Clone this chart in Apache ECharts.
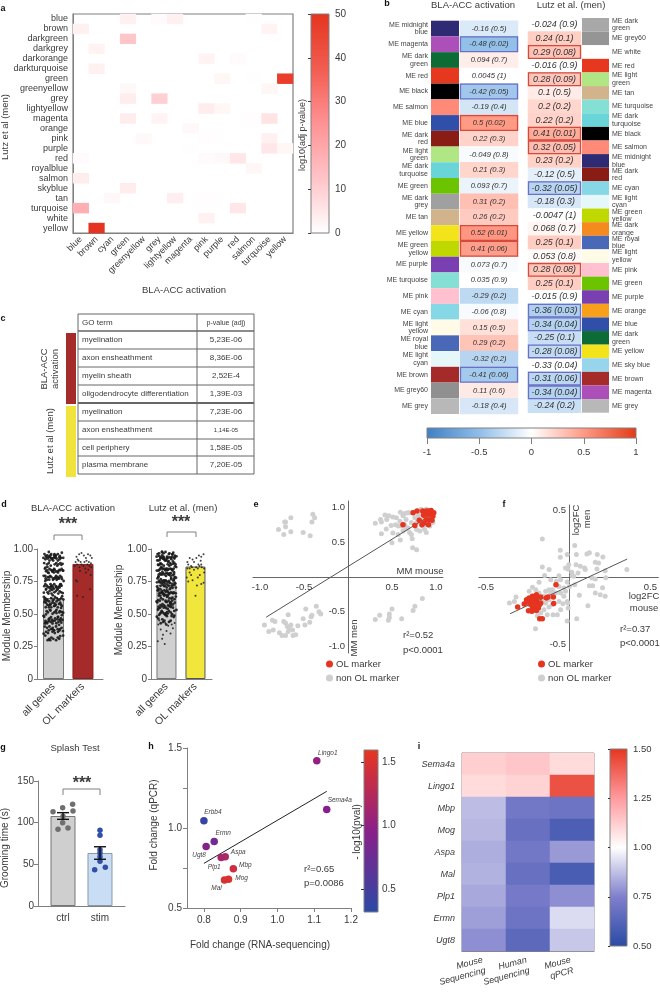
<!DOCTYPE html>
<html><head><meta charset="utf-8"><style>html,body{margin:0;padding:0;background:#fff}#c{width:660px;height:993px}</style>
<script src="https://cdn.jsdelivr.net/npm/echarts@6/dist/echarts.min.js"></script></head>
<body><div id="c"></div><script>
// ---------- panel a data
const aCols=['blue','brown','cyan','green','greenyellow','grey','lightyellow','magenta','pink','purple','red','salmon','turquoise','yellow'];
const aRows=['blue','brown','darkgreen','darkgrey','darkorange','darkturquoise','green','greenyellow','grey','lightyellow','magenta','orange','pink','purple','red','royalblue','salmon','skyblue','tan','turquoise','white','yellow'];
const aCells=[['green','blue',3],['grey','blue',1],['lightyellow','blue',3],['salmon','blue',.3],['blue','brown',3],['turquoise','brown',2.5],['green','darkgreen',12],['brown','darkgrey',2.5],['pink','darkorange',2.5],['red','darkorange',1],['brown','darkturquoise',3],['purple','green',2],['yellow','green',47],['salmon','green',.3],['green','greenyellow',1.5],['turquoise','greenyellow',2],['green','grey',4],['grey','grey',10],['pink','lightyellow',4],['purple','lightyellow',2],['green','magenta',4],['grey','magenta',2.5],['salmon','magenta',.5],['turquoise','magenta',6],['magenta','orange',1.5],['greenyellow','pink',1.5],['pink','pink',.5],['turquoise','pink',3],['magenta','purple',.3],['turquoise','purple',5],['yellow','purple',2],['blue','red',1],['pink','red',1],['purple','red',1.5],['red','red',5],['salmon','royalblue',2],['blue','salmon',4],['green','skyblue',4],['cyan','tan',1.5],['lightyellow','tan',3.5],['pink','tan',.5],['blue','turquoise',18],['red','turquoise',5],['pink','white',3],['brown','yellow',50]];
const aTicks=[0,50];
// ---------- panel b data
const bLeftLabels=['ME midnight\nblue','ME magenta','ME dark\ngreen','ME red','ME black','ME salmon','ME blue','ME dark\nred','ME light\ngreen','ME dark\nturquoise','ME green','ME dark\ngrey','ME tan','ME yellow','ME green\nyellow','ME purple','ME turquoise','ME pink','ME cyan','ME light\nyellow','ME royal\nblue','ME light\ncyan','ME brown','ME grey60','ME grey'];
const bLeftColors=['#2e2a73','#ad4fb8','#0d6b35','#e5381f','#000000','#ff8a78','#2f4fa8','#8a1c16','#b0e683','#69d5d8','#6cc300','#a0a0a0','#d2b48c','#f2e31a','#bfd800','#7a3fb0','#84e0d4','#ffc0d0','#86d8e6','#fffbe6','#4a68b8','#e6f7fa','#a52a2a','#909090','#b8b8b8'];
const bLeftText=['-0.16 (0.5)','-0.48 (0.02)','0.094 (0.7)','0.0045 (1)','-0.42 (0.05)','-0.19 (0.4)','0.5 (0.02)','0.22 (0.3)','-0.049 (0.8)','0.21 (0.3)','0.093 (0.7)','0.31 (0.2)','0.26 (0.2)','0.52 (0.01)','0.41 (0.06)','0.073 (0.7)','0.035 (0.9)','-0.29 (0.2)','-0.06 (0.8)','0.15 (0.5)','0.29 (0.2)','-0.32 (0.2)','-0.41 (0.06)','0.11 (0.6)','-0.18 (0.4)'];
const bLeftShade=[-.16,-.48,.09,0,-.42,-.19,.5,.22,-.03,.21,-.09,.31,.26,.52,.48,-.03,0,-.29,-.03,.15,.29,-.32,-.41,.11,-.18];
const bLeftBoxed=[1,4,6,13,14,22];
const bRightLabels=['ME dark\ngreen','ME grey60','ME white','ME red','ME light\ngreen','ME tan','ME turquoise','ME dark\nturquoise','ME black','ME salmon','ME midnight\nblue','ME dark\nred','ME cyan','ME light\ncyan','ME green\nyellow','ME dark\norange','ME royal\nblue','ME light\nyellow','ME pink','ME green','ME purple','ME orange','ME blue','ME dark\ngreen','ME yellow','ME sky blue','ME brown','ME magenta','ME grey'];
const bRightColors=['#a8a8a8','#959595','#ffffff','#e5381f','#b0e683','#d2b48c','#84e0d4','#69d5d8','#000000','#ff8a78','#2e2a73','#8a1c16','#86d8e6','#e6f7fa','#bfd800','#f58a1f','#4a68b8','#fffbe6','#ffc0d0','#6cc300','#7a3fb0','#f9a01b','#2f4fa8','#0d6b35','#f2e31a','#96d5ec','#a52a2a','#ad4fb8','#b8b8b8'];
const bRightText=['-0.024 (0.9)','0.24 (0.1)','0.29 (0.08)','-0.016 (0.9)','0.28 (0.09)','0.1 (0.5)','0.2 (0.2)','0.22 (0.2)','0.41 (0.01)','0.32 (0.05)','0.23 (0.2)','-0.12 (0.5)','-0.32 (0.05)','-0.18 (0.3)','-0.0047 (1)','0.068 (0.7)','0.25 (0.1)','0.053 (0.8)','0.28 (0.08)','0.25 (0.1)','-0.015 (0.9)','-0.36 (0.03)','-0.34 (0.04)','-0.25 (0.1)','-0.28 (0.08)','-0.33 (0.04)','-0.31 (0.06)','-0.34 (0.04)','-0.24 (0.2)'];
const bRightShade=[0,.24,.29,0,.28,.1,.2,.22,.41,.32,.23,-.12,-.32,-.18,0,.05,.25,.03,.28,.25,0,-.36,-.34,-.25,-.28,0,-.31,-.34,-.24];
const bRightBoxed=[2,4,8,9,12,18,21,22,24,26,27];
// ---------- panel c data
const goTerms=['myelination','axon ensheathment','myelin sheath','oligodendrocyte differentiation','myelination','axon ensheathment','cell periphery','plasma membrane'];
const goP=['5,23E-06','8,36E-06','2,52E-4','1,39E-03','7,23E-06','1,14E-05','1,58E-05','7,20E-05'];
// ---------- panel d data
const dCats=['all genes','OL markers'];
const dLeftMeans=[.623,.885], dRightMeans=[.725,.865];
const laneOffsets=[-.3,-.24,-.18,-.12,-.06,0,.06,.12,.18,.24,.3];
const jitterX=[.021,-.034,.008,.029,-.017,-.041,.036,-.006,.014,-.027,.043,-.012,.025];
const jitterY=[.004,-.011,.013,-.006,.009,-.014,.002,.011,-.003,-.009,.007];
const allLeftLanes=[
[.33,.36,.39,.44,.47,.5,.55,.58,.61,.64,.68,.71,.74,.78,.8,.84,.87,.89,.92,.95,.97,.42,.66],
[.31,.35,.4,.42,.46,.52,.56,.59,.63,.66,.69,.73,.76,.79,.82,.85,.88,.91,.94,.96,.49,.75],
[.32,.34,.38,.43,.48,.51,.54,.57,.62,.65,.7,.72,.75,.77,.81,.83,.86,.9,.93,.95,.97,.6],
[.31,.37,.41,.45,.49,.53,.56,.6,.63,.67,.69,.74,.77,.8,.83,.86,.89,.92,.94,.96,.44,.71],
[.33,.35,.39,.43,.47,.5,.54,.58,.61,.65,.68,.72,.75,.79,.82,.84,.87,.91,.93,.97,.52,.64],
[.32,.36,.4,.44,.46,.51,.55,.59,.62,.66,.7,.73,.76,.78,.81,.85,.88,.9,.94,.96,.42,.69],
[.31,.34,.38,.42,.48,.52,.57,.6,.64,.67,.71,.74,.77,.8,.83,.86,.89,.92,.95,.97,.5,.56],
[.33,.37,.41,.45,.49,.53,.56,.61,.63,.68,.7,.72,.75,.79,.82,.84,.87,.9,.93,.96,.47,.77],
[.32,.35,.39,.43,.47,.51,.54,.58,.62,.65,.69,.73,.76,.78,.81,.85,.88,.91,.94,.97,.41,.67],
[.34,.36,.4,.44,.48,.52,.55,.59,.63,.66,.7,.74,.77,.8,.83,.86,.89,.92,.95,.5,.72],
[.33,.38,.42,.46,.5,.53,.57,.6,.64,.67,.71,.75,.78,.82,.84,.87,.9,.93,.96,.55]];
const olLeft=[[-.24,.76],[-.2,.64],[0,.63],[.24,.69],[-.2,.75],[-.28,.87],[-.2,.88],[-.12,.86],[-.05,.88],[.02,.87],[.08,.85],[.15,.88],[.22,.87],[.28,.86],[-.25,.9],[-.15,.91],[-.08,.9],[.05,.9],[.12,.91],[.2,.9],[.27,.89],[-.22,.94],[-.13,.96],[-.05,.97],[.03,.95],[.1,.93],[.17,.96],[.25,.95],[-.18,.92],[.3,.93],[-.1,.83],[.1,.82],[.18,.84],[.26,.8]];
const allRightLanes=[
[.46,.49,.52,.55,.58,.61,.64,.67,.7,.72,.75,.77,.8,.82,.84,.87,.89,.91,.93,.95,.97,.6,.74],
[.44,.48,.51,.54,.57,.6,.63,.66,.69,.71,.74,.76,.79,.81,.83,.86,.88,.9,.92,.94,.96,.78],
[.47,.5,.53,.56,.59,.62,.65,.68,.7,.73,.75,.78,.8,.83,.85,.87,.89,.92,.94,.96,.97,.66],
[.45,.49,.52,.55,.58,.61,.64,.67,.69,.72,.74,.77,.79,.82,.84,.86,.88,.91,.93,.95,.97,.71],
[.46,.48,.51,.54,.57,.6,.63,.66,.68,.71,.73,.76,.78,.81,.83,.85,.87,.9,.92,.94,.96,.59],
[.43,.47,.5,.53,.56,.59,.62,.65,.69,.72,.75,.77,.8,.82,.84,.86,.88,.9,.93,.95,.97,.7],
[.45,.49,.52,.55,.58,.6,.63,.66,.68,.71,.74,.76,.79,.81,.83,.85,.87,.89,.91,.94,.96,.64],
[.46,.5,.53,.57,.6,.62,.65,.67,.7,.73,.75,.78,.8,.82,.84,.86,.89,.92,.94,.97,.56],
[.48,.51,.54,.58,.61,.64,.66,.69,.72,.74,.77,.79,.81,.83,.85,.87,.9,.92,.95,.96,.6],
[.47,.52,.56,.59,.62,.65,.68,.7,.73,.76,.78,.8,.83,.86,.88,.91,.93,.95,.97,.75],
[.49,.54,.58,.63,.67,.71,.74,.77,.8,.82,.85,.87,.89,.92,.94,.96,.69]];
const allRightSparse=[[-.28,.42],[-.2,.38],[-.12,.34],[-.06,.27],[0,.37],[.06,.41],[.14,.35],[.22,.39],[.28,.43],[-.25,.45],[-.15,.31],[.1,.44],[.18,.42],[-.3,.29],[-.04,.43]];
const olRight=[[0,.64],[-.3,.78],[-.25,.75],[-.1,.76],[.2,.73],[.28,.74],[.05,.72],[.15,.8],[-.2,.82],[.3,.82],[-.28,.85],[-.2,.85],[-.12,.86],[-.05,.84],[.02,.86],[.08,.85],[.14,.87],[.22,.86],[.3,.85],[-.25,.88],[-.15,.87],[.1,.88],[.2,.88],[-.2,.93],[-.1,.92],[.03,.93],[.12,.95],[.2,.94],[.28,.96],[-.05,.9],[.18,.91],[-.28,.9],[.08,.78],[-.15,.8]];
// ---------- panel e data
const eGrey=[[-.79,.68],[-.73,.61],[-.72,.79],[-.71,.79],[-.71,.72],[-.65,.85],[-.65,.65],[-.51,.64],[-.43,.59],[-.40,.90],[-.38,.85],[-.41,.79],
[-.95,-.69],[-.90,-.78],[-.85,-.76],[-.86,-.62],[-.83,-.64],[-.78,-.80],[-.75,-.84],[-.71,-.84],[-.73,-.64],[-.71,-.66],[-.68,-.54],[-.69,-.71],[-.67,-.73],[-.65,-.69],[-.63,-.76],[-.68,-.78],[-.625,-.84],[-.595,-.83],[-.57,-.70],[-.51,-.60],[-.49,-.69],[-.48,-.46],[-.435,-.65],[-.42,-.57],[-.41,-.55],[-.36,-.42],[-.33,-.50],[-.31,-.53],
[.31,-.61],[.36,-.55],[.47,-.53],[.47,-.58],[.46,-.62],[.50,-.46],[.61,-.60],[.74,-.48],[.76,-.42],[.845,-.31],
[.31,.77],[.37,.825],[.38,.79],[.42,.89],[.435,.69],[.38,.62],[.50,.49],[.595,.53],[.73,.55],[.735,.42],[.78,.39],[.465,.88],[.51,.86],[.54,.75],[.595,.93],[.625,.88],[.66,.825],[.70,.92],[.74,.93],[.83,.97],[.89,.97],[.93,.92],[.49,.74],[.57,.73],[.605,.73],[.645,.75],[.68,.705],[.72,.78],[.78,.78],[.815,.825],[.85,.80],[.89,.75],[.78,.68],[.815,.66],[.87,.68],[.89,.64],[.76,.85],[.795,.87],[.83,.90],[.87,.85],[.91,.80],[.945,.85],[.51,.63],[.57,.61],[.625,.66],[.66,.69],[.70,.64],[.72,.61],[.44,.825],[.59,.80],[.55,.85],[.645,.91],[.68,.92],[.85,.73],[.93,.73],[.965,.78]];
const eRed=[[.625,.75],[.74,.92],[.785,.945],[.76,.74],[.81,.815],[.84,.75],[.865,.775],[.85,.945],[.89,.945],[.915,.945],[.945,.955],[.945,.91],[.91,.895],[.87,.91],[.93,.82],[.955,.815],[.915,.75],[.89,.82],[.86,.885],[.975,.92],[.965,.87]];
const eFit=[[-.93,-.576],[.966,.906]];
// ---------- panel f data
const fGrey=[[-.157,.284],[.04,.234],[-.048,.20],[.114,.172],[.129,.18],[.177,.167],[.211,.149],[-.048,.147],[-.006,.167],[.05,.167],[.165,.11],[.185,.104],[.004,.092],[.048,.092],[.074,.08],[.10,.067],[-.016,.067],[-.002,.06],[-.116,.055],[-.157,.075],[.175,.06],[.225,.047],[.357,.055],[.229,-.005],[.145,-.007],[.165,-.015],[.022,.035],[.024,.01],[.06,.03],[.104,.055],[-.143,.012],[-.106,-.02],[-.056,.01],[-.046,-.02],[-.177,-.04],[-.217,-.077],[-.026,-.082],[.008,-.07],[.04,-.057],[-.116,-.095],[-.137,-.107],[-.096,-.095],[.129,-.065],[.149,-.065],[.209,-.08],[.165,-.12],[.195,-.132],[.225,-.144],[.068,-.137],[.12,-.214],[-.046,-.12],[-.026,-.144],[-.006,-.182],[-.056,-.182],[-.032,-.20],[-.002,-.194],[0,-.231],[-.046,-.244],[-.066,-.281],[-.096,-.206],[-.116,-.224],[-.137,-.194],[-.147,-.244],[-.167,-.269],[-.187,-.289],[-.127,-.281],[-.092,-.281],[-.217,-.144],[-.197,-.095],[-.177,-.12],[-.317,-.149],[-.327,-.182],[-.357,-.194],[-.237,-.107],[-.006,-.328],[.052,-.311],[-.199,-.386],[-.116,-.169],[-.076,-.12],[-.161,-.169],[-.147,-.144],[-.237,-.206],[-.217,-.256],[-.106,-.12],[-.016,-.107],[-.056,-.07],[-.072,-.032],[-.006,-.037],[.034,.005]];
const fRed=[[-.074,-.057],[-.307,-.224],[-.267,-.201],[-.253,-.169],[-.237,-.157],[-.217,-.144],[-.193,-.132],[-.167,-.149],[-.133,-.157],[-.123,-.149],[-.09,-.149],[-.088,-.197],[-.237,-.182],[-.217,-.169],[-.193,-.164],[-.187,-.194],[-.167,-.194],[-.173,-.206],[-.201,-.224],[-.181,-.231],[-.217,-.231],[-.241,-.251],[-.221,-.256],[-.193,-.249],[-.173,-.311],[-.157,-.311],[-.253,-.189],[-.207,-.194],[-.227,-.206]];
const fFit=[[-.353,-.274],[.359,.134]];
// ---------- panel g data
const gCats=['ctrl','stim'], gMeans=[108,63.6], gErr=[4,7.5];
const gCtrl=[[.73,113],[.99,118],[1.26,122],[1.27,114],[1,107.6],[.99,100],[.865,92],[1.135,93.6]];
const gStim=[[2,91],[2,85],[2,67.6],[2,63.6],[2,59],[1.856,43.6],[2.144,46.4],[2,53.6]];
// ---------- panel h data
const hGenes=['Lingo1','Sema4a','Erbb4','Ermn','Ugt8','Aspa','Plp1','Mbp','Mog','Mal'];
const hX=[1.107,1.134,.80,.828,.806,.858,.847,.88,.867,.856];
const hY=[1.42,1.115,1.045,.915,.885,.82,.815,.745,.68,.675];
const hP=[1.0,.93,.42,.78,.92,1.2,1.15,1.4,1.5,1.48];
const hFit=[[.80,.779],[1.134,1.229]];
// ---------- panel i data
const iRows=['Sema4a','Lingo1','Mbp','Mog','Aspa','Mal','Plp1','Ermn','Ugt8'];
const iCols=['Mouse\nSequencing','Human\nSequencing','Mouse\nqPCR'];
const iValues=[[1.12,1.14,1.09],[1.09,1.11,1.43],[.87,.71,.70],[.86,.68,.60],[.84,.71,.80],[.85,.68,.59],[.83,.72,.78],[.81,.70,.93],[.78,.65,.89]];

// ---------- styles
const FONT='"Liberation Sans",Arial,sans-serif',INK='#3a3a3a',AX='#808080';
const redRamp=['#ffffff','#ffc4c8','#ff9295','#f25c50','#e5341f'];
const corrRamp=['#3f7fc4','#8fbde8','#ffffff','#ff9a85','#e33a17'];
const hRamp=['#2a4aa6','#8a1f8a','#e8361f'];
const iRamp=['#2b4aa5','#7f7fcc','#ffffff','#ff9a9e','#e5361f'];
const grid=[],xAxis=[],yAxis=[],series=[],visualMap=[],gfx=[];
const txt=s=>({fontFamily:FONT,color:INK,...s});
function panel(box,x,y){const i=grid.length;
 grid.push({left:box[0],top:box[1],width:box[2]-box[0],height:box[3]-box[1]});
 xAxis.push({gridIndex:i,splitLine:{show:false},...x});yAxis.push({gridIndex:i,splitLine:{show:false},...y});return i;}
const hidden=(extra)=>({type:'value',min:0,max:1,show:false,...extra});
const stops=r=>r.map((c,i)=>({offset:i/(r.length-1),color:c}));
function colorBar(g,ramp,vertical){series.push({type:'custom',name:'colour scale',xAxisIndex:g,yAxisIndex:g,silent:true,z:1,data:[[.5,.5]],
 renderItem:(p)=>({type:'rect',shape:{x:p.coordSys.x,y:p.coordSys.y,width:p.coordSys.width,height:p.coordSys.height},
 style:{fill:{type:'linear',x:0,y:vertical?1:0,x2:vertical?0:1,y2:0,colorStops:stops(ramp)},stroke:AX,lineWidth:1}})});}
function T(x,y,text,o={}){gfx.push({type:'text',x,y,rotation:o.rot||0,z:50,style:{text,fill:o.fill||INK,fontFamily:FONT,fontSize:o.size||10,fontWeight:o.weight||'normal',fontStyle:o.style||'normal',textAlign:o.align||'center',textVerticalAlign:'middle'}});}
function poly(pts,color,w){gfx.push({type:'polyline',z:50,shape:{points:pts},style:{stroke:color||AX,lineWidth:w||1,fill:null}});}
const VR=Math.PI/2;

// ---------- a
const ga=panel([73,14,293,233],
 {type:'category',data:aCols,axisLine:{lineStyle:{color:AX}},axisTick:{alignWithLabel:true,length:3,lineStyle:{color:AX}},axisLabel:txt({rotate:45,interval:0,fontSize:9,margin:5})},
 {type:'category',data:aRows,inverse:true,axisLine:{lineStyle:{color:AX}},axisTick:{alignWithLabel:true,length:3,lineStyle:{color:AX}},axisLabel:txt({interval:0,fontSize:9,margin:5})});
grid[ga].show=true;grid[ga].borderColor=AX;grid[ga].borderWidth=1.2;
visualMap.push({show:false,seriesIndex:series.length,dimension:2,min:0,max:50,inRange:{color:redRamp}});
series.push({type:'heatmap',name:'overlap',xAxisIndex:ga,yAxisIndex:ga,data:aCells.map(c=>[aCols.indexOf(c[0]),aRows.indexOf(c[1]),c[2]])});
const gaCb=panel([311,14,329,233],hidden(),{type:'value',position:'right',min:aTicks[0],max:aTicks[1],interval:10,z:10,axisLine:{show:false},axisTick:{show:true,inside:true,length:3,lineStyle:{color:'#444'}},axisLabel:txt({fontSize:10,margin:6,padding:[0,0,6,0]})});
colorBar(gaCb,redRamp,true);
T(184,290,'BLA-ACC activation',{size:9.5});T(5,127,'Lutz et al (men)',{size:9.5,rot:VR});T(303,135,'log10(adj p-value)',{size:9,rot:VR});

// ---------- b
const catAxis=(d,extra)=>({type:'category',data:d,inverse:true,show:false,...extra});
const labelAxis=(d,pos)=>({type:'category',data:d,inverse:true,position:pos,axisLine:{show:false},axisTick:{show:false},axisLabel:{fontFamily:FONT,color:'#444',fontSize:7,lineHeight:7.5,interval:0,margin:3,align:pos==='left'?'right':'left'}});
const oneCol={type:'category',data:['x'],show:false};
function swatches(g,colors){series.push({type:'custom',name:'module colour',xAxisIndex:g,yAxisIndex:g,silent:true,data:colors.map((c,i)=>[0,i]),
 renderItem:(p,api)=>{const i=api.value(1),c=api.coord([0,i]),s=api.size([1,1]);
  return {type:'rect',shape:{x:c[0]-s[0]/2,y:c[1]-s[1]/2,width:s[0],height:s[1]},style:{fill:colors[i]}};}});}
function corrCells(g,text,shade,boxed,size){
 visualMap.push({show:false,seriesIndex:series.length,dimension:2,min:-1,max:1,inRange:{color:corrRamp}});
 series.push({type:'heatmap',name:'correlation',xAxisIndex:g,yAxisIndex:g,
  label:{show:true,fontFamily:FONT,fontStyle:'italic',fontSize:size,color:'#333',formatter:p=>p.name},
  data:text.map((t,i)=>({name:t,value:[0,i,shade[i]]}))});
 series.push({type:'custom',name:'significant',xAxisIndex:g,yAxisIndex:g,silent:true,z:5,data:boxed.map(i=>[0,i,shade[i]]),
  renderItem:(p,api)=>{const c=api.coord([0,api.value(1)]),s=api.size([1,1]);
   return {type:'rect',shape:{x:c[0]-s[0]/2+.5,y:c[1]-s[1]/2+.5,width:s[0]-1,height:s[1]-1},style:{fill:'none',stroke:api.value(2)>0?'#d64a3c':'#6b70c6',lineWidth:1.3}};}});
}
const b1s=panel([431,20.7,459,414],oneCol,labelAxis(bLeftLabels,'left'));swatches(b1s,bLeftColors);
const b1v=panel([460,20.7,518,414],oneCol,catAxis(bLeftLabels));corrCells(b1v,bLeftText,bLeftShade,bLeftBoxed,7.6);
const b2v=panel([528,18,581,412.7],oneCol,catAxis(bRightLabels));corrCells(b2v,bRightText,bRightShade,bRightBoxed,8.9);
const b2s=panel([582,18,609,412.7],oneCol,labelAxis(bRightLabels,'right'));swatches(b2s,bRightColors);
const bCb=panel([427,428,636,438],{type:'value',min:-1,max:1,interval:.5,axisLine:{show:false},axisTick:{show:true,length:6,lineStyle:{color:AX}},axisLabel:txt({fontSize:9.5,margin:9})},hidden());
colorBar(bCb,corrRamp,false);
T(473,5,'BLA-ACC activation',{size:9.5});T(571,5,'Lutz et al. (men)',{size:9.5});

// ---------- c
const cx=[78,197,254],cy=[314,331,349,367,385,403,421,439,456,474];
gfx.push({type:'rect',z:40,shape:{x:66,y:333,width:10,height:71},style:{fill:'#a52a2a'}},{type:'rect',z:40,shape:{x:66,y:406,width:10,height:71},style:{fill:'#efe33c'}});
cy.forEach((y,i)=>poly([[cx[0],y],[cx[2],y]],'#666',i===5?2:(i===1?1.5:1)));
cx.forEach(x=>poly([[x,cy[0]],[x,cy[9]]],'#666',1));
T(82,322.5,'GO term',{size:8,align:'left'});T(226,323,'p-value (adj)',{size:7});
goTerms.forEach((t,i)=>{const y=(cy[i+1]+cy[i+2])/2;T(82,y,t,{size:8,align:'left'});T(226,y,goP[i],{size:i===5?6:8});});
T(44,369,'BLA-ACC',{size:9.5,rot:VR});T(55,369,'activation',{size:9.5,rot:VR});T(50,441,'Lutz et al (men)',{size:9.5,rot:VR});

// ---------- d
function memberPanel(box,range,means,fill,lanes,sparse,ol,barW,border){
 const g=panel(box,{type:'value',min:range[0],max:range[1],axisLine:{onZero:false,lineStyle:{color:AX}},axisTick:{show:false},
   axisLabel:{...txt({fontSize:10.5,rotate:45,margin:6}),customValues:[1,2],formatter:v=>dCats[v-1]}},
  {type:'value',min:0,max:1,interval:.25,axisLine:{show:true,lineStyle:{color:AX}},axisTick:{show:true,length:3,lineStyle:{color:AX}},axisLabel:txt({fontSize:10,margin:4,formatter:v=>v===0?'0':v.toFixed(2)})});
 series.push({type:'bar',name:'mean',xAxisIndex:g,yAxisIndex:g,barWidth:barW,data:means.map((m,i)=>({value:[i+1,m],itemStyle:{color:i?fill:'#d0d0d0',borderColor:i?border:'#777',borderWidth:1}}))});
 const pts=[];let n=0;lanes.forEach((l,k)=>l.forEach(y=>{pts.push([1+laneOffsets[k]+jitterX[n%jitterX.length],y+jitterY[n%jitterY.length]]);n++;}));
 series.push({type:'scatter',name:'all genes',xAxisIndex:g,yAxisIndex:g,symbolSize:2.8,z:4,itemStyle:{color:'#1a1a1a',opacity:.9},data:pts});
 if(sparse.length)series.push({type:'scatter',name:'all genes, low',xAxisIndex:g,yAxisIndex:g,symbolSize:2,z:4,itemStyle:{color:'#222',opacity:.9},data:sparse.map(p=>[1+p[0],p[1]])});
 series.push({type:'scatter',name:'OL genes',xAxisIndex:g,yAxisIndex:g,symbolSize:2,z:4,itemStyle:{color:'#222',opacity:.85},data:ol.map(p=>[2+p[0],p[1]])});
 return g;
}
memberPanel([37,549,103,679],[.44,2.68],dLeftMeans,'#a52a2a',allLeftLanes,[],olLeft,21,'#8a2020');
memberPanel([151,549,212,679],[.466,2.57],dRightMeans,'#f0e63c',allRightLanes,allRightSparse,olRight,20,'#555');
T(73,508,'BLA-ACC activation',{size:9.5});T(183,508,'Lutz et al. (men)',{size:9.5});
T(7,616,'Module Membership',{size:10,rot:VR});T(119,610,'Module Membership',{size:10,rot:VR});
poly([[54,540],[54,535],[82,535],[82,540]]);poly([[167,537],[167,532],[196,532],[196,537]]);
T(68,525,'***',{size:16,weight:'bold'});T(181,523,'***',{size:16,weight:'bold'});

// ---------- e / f
function crossPanel(box,xr,yr,xv,yv,grey,red,fit,sz){
 const w=box[2]-box[0],h=box[3]-box[1];
 const ax=(r,v,off,m)=>({type:'value',min:r[0],max:r[1],offset:off,axisLine:{onZero:false,lineStyle:{color:'#666'}},axisTick:{show:false},axisLabel:{...txt({fontSize:9.5,margin:m}),customValues:v,formatter:x=>x.toFixed(1)}});
 const g=panel(box,ax(xr,xv,-h*(-yr[0])/(yr[1]-yr[0]),5),ax(yr,yv,-w*(-xr[0])/(xr[1]-xr[0]),3));
 series.push({type:'scatter',name:'non OL marker',xAxisIndex:g,yAxisIndex:g,symbolSize:sz,itemStyle:{color:'#cfcfcf',opacity:1},data:grey});
 series.push({type:'line',name:'fit',xAxisIndex:g,yAxisIndex:g,symbol:'none',silent:true,z:3,lineStyle:{color:'#555',width:1},data:fit});
 series.push({type:'scatter',name:'OL marker',xAxisIndex:g,yAxisIndex:g,symbolSize:sz+.5,z:4,itemStyle:{color:'#e5341f',opacity:1},data:red});
}
crossPanel([253,501,443,653],[-1.08,1.08],[-1.09,1.09],[-1,-.5,.5,1],[-1,-.5,.5,1],eGrey,eRed,eFit,5);
crossPanel([479,505,660,651],[-.542,.548],[-.552,.537],[-.5,.5],[-.5,.5],fGrey,fRed,fFit,5);
T(420,571,'MM mouse',{size:9.5});T(354,638,'MM men',{size:9.5,rot:VR});T(403,635,'r²=0.52',{size:9.5,align:'left'});T(403,650,'p<0.0001',{size:9.5,align:'left'});
T(576,520,'log2FC',{size:9.5,rot:VR});T(587,519,'men',{size:9.5,rot:VR});T(644,596,'log2FC',{size:9.5});T(644,608,'mouse',{size:9.5});T(620,629,'r²=0.37',{size:9.5,align:'left'});T(620,643,'p<0.0001',{size:9.5,align:'left'});
const legend=[326,538].map(left=>({left,top:659,orient:'vertical',padding:0,itemGap:4,itemWidth:7,itemHeight:7,icon:'circle',selectedMode:false,textStyle:txt({fontSize:9.5,padding:[0,0,0,-2]}),data:['OL marker','non OL marker']}));

// ---------- g
const gg=panel([38,781,125,906],{type:'value',min:.324,max:2.676,axisLine:{onZero:false,lineStyle:{color:AX}},axisTick:{show:false},axisLabel:{...txt({fontSize:10,margin:7}),customValues:[1,2],formatter:v=>gCats[v-1]}},
 {type:'value',min:0,max:150,interval:50,axisLine:{show:true,lineStyle:{color:AX}},axisTick:{show:true,length:4,lineStyle:{color:AX}},axisLabel:txt({fontSize:10,margin:4})});
series.push({type:'bar',name:'mean',xAxisIndex:gg,yAxisIndex:gg,barWidth:25,data:gMeans.map((m,i)=>({value:[i+1,m],itemStyle:{color:i?'#c9ddf4':'#cfcfcf',borderColor:i?'#8a9aa8':'#777',borderWidth:1}}))});
series.push({type:'scatter',name:'ctrl',xAxisIndex:gg,yAxisIndex:gg,symbolSize:5.5,z:4,itemStyle:{color:'#6f6f6f',opacity:1},data:gCtrl});
series.push({type:'scatter',name:'stim',xAxisIndex:gg,yAxisIndex:gg,symbolSize:5.5,z:4,itemStyle:{color:'#2f4fa8',opacity:1},data:gStim});
series.push({type:'custom',name:'sem',xAxisIndex:gg,yAxisIndex:gg,z:5,silent:true,data:gMeans.map((m,i)=>[i+1,m-gErr[i],m+gErr[i]]),
 renderItem:(p,api)=>{const a=api.coord([api.value(0),api.value(1)]),b=api.coord([api.value(0),api.value(2)]),st={stroke:'#111',lineWidth:1.4};
  const L=(x1,y1,x2,y2)=>({type:'line',shape:{x1,y1,x2,y2},style:st});
  return {type:'group',children:[L(a[0],a[1],b[0],b[1]),L(a[0]-6,a[1],a[0]+6,a[1]),L(a[0]-6,b[1],a[0]+6,b[1])]};}});
T(75,748,'Splash Test',{size:9.5});T(5,848,'Grooming time (s)',{size:10,rot:VR});
poly([[63,795],[63,789],[100,789],[100,795]]);T(82,784,'***',{size:16,weight:'bold'});

// ---------- h
const hOffsets={Lingo1:[11,-8],Sema4a:[13,-9],Erbb4:[9,-9],Ermn:[9,-8],Ugt8:[-7,9],Aspa:[13,-5],Plp1:[-7,10],Mbp:[12,-4],Mog:[13,-1],Mal:[-8,8]};
const gh=panel([187,748,351,908],{type:'value',min:.754,max:1.2,axisLine:{onZero:false,lineStyle:{color:AX}},axisTick:{show:true,length:4,customValues:[.8,.9,1,1.1,1.2],lineStyle:{color:AX}},axisLabel:{...txt({fontSize:10,margin:7}),customValues:[.8,.9,1,1.1,1.2],formatter:v=>v.toFixed(1)}},
 {type:'value',min:.5,max:1.5,interval:.25,axisLine:{show:true,lineStyle:{color:AX}},axisTick:{show:true,length:4,lineStyle:{color:AX}},axisLabel:txt({fontSize:10,margin:5,formatter:v=>v%.5===0?v.toFixed(1):''})});
series.push({type:'line',name:'fit',xAxisIndex:gh,yAxisIndex:gh,symbol:'none',silent:true,lineStyle:{color:'#222',width:1},data:hFit});
visualMap.push({show:false,seriesIndex:series.length,dimension:2,min:.319,max:1.594,inRange:{color:hRamp}});
series.push({type:'scatter',name:'genes',xAxisIndex:gh,yAxisIndex:gh,symbolSize:7.5,z:4,itemStyle:{opacity:1},
 label:{show:true,position:'inside',fontFamily:FONT,fontStyle:'italic',fontSize:6.5,color:'#444',formatter:p=>p.name},
 data:hGenes.map((n,i)=>({name:n,value:[hX[i],hY[i],hP[i]],label:{offset:hOffsets[n]}}))});
const ghCb=panel([364,750,378,912],hidden(),{type:'value',position:'right',min:.319,max:1.594,z:10,axisLine:{show:false},axisTick:{show:true,inside:true,length:3,customValues:[.5,1,1.5],lineStyle:{color:'#333'}},axisLabel:{...txt({fontSize:10,margin:4}),customValues:[.5,1,1.5],formatter:v=>v.toFixed(1)}});
colorBar(ghCb,hRamp,true);
T(260,945,'Fold change (RNA-sequencing)',{size:10});T(154,825,'Fold change (qPCR)',{size:10,rot:VR});T(357,832,'- log10(pval)',{size:10,rot:VR});
T(304,869,'r²=0.65',{size:9.5,align:'left'});T(304,883,'p=0.0086',{size:9.5,align:'left'});

// ---------- i
const gi=panel([462,753,594,951],{type:'category',data:iCols,axisLine:{lineStyle:{color:AX}},axisTick:{alignWithLabel:true,length:4,lineStyle:{color:AX}},axisLabel:txt({fontSize:9,fontStyle:'italic',rotate:15,interval:0,margin:14,lineHeight:11})},
 {type:'category',data:iRows,inverse:true,axisLine:{lineStyle:{color:AX}},axisTick:{alignWithLabel:true,length:4,lineStyle:{color:AX}},axisLabel:txt({fontSize:9,fontStyle:'italic',interval:0,margin:7})});
grid[gi].show=true;grid[gi].borderColor=AX;grid[gi].borderWidth=1;
visualMap.push({show:false,seriesIndex:series.length,dimension:2,min:.5,max:1.5,inRange:{color:iRamp}});
series.push({type:'heatmap',name:'fold change',xAxisIndex:gi,yAxisIndex:gi,data:iValues.flatMap((r,y)=>r.map((v,x)=>[x,y,v]))});
const giCb=panel([610,749,627,946],hidden(),{type:'value',position:'right',min:.5,max:1.5,interval:.25,z:10,axisLine:{show:false},axisTick:{show:true,inside:true,length:2,lineStyle:{color:'#333'}},axisLabel:txt({fontSize:9.5,margin:6,formatter:v=>v.toFixed(2)})});
colorBar(giCb,iRamp,true);

// ---------- panel letters
[['a',3,9],['b',387,4],['c',3,319],['d',4,505],['e',256,505],['f',504,505],['g',3,748],['h',151,747],['i',419,747]].forEach(l=>T(l[1],l[2],l[0],{size:9,weight:'bold',fill:'#111'}));

const chart=echarts.init(document.getElementById('c'),null,{renderer:'canvas'});
chart.setOption({animation:false,backgroundColor:'#fff',grid,xAxis,yAxis,series,visualMap,legend,graphic:{elements:gfx},tooltip:{show:false}});
</script></body></html>
